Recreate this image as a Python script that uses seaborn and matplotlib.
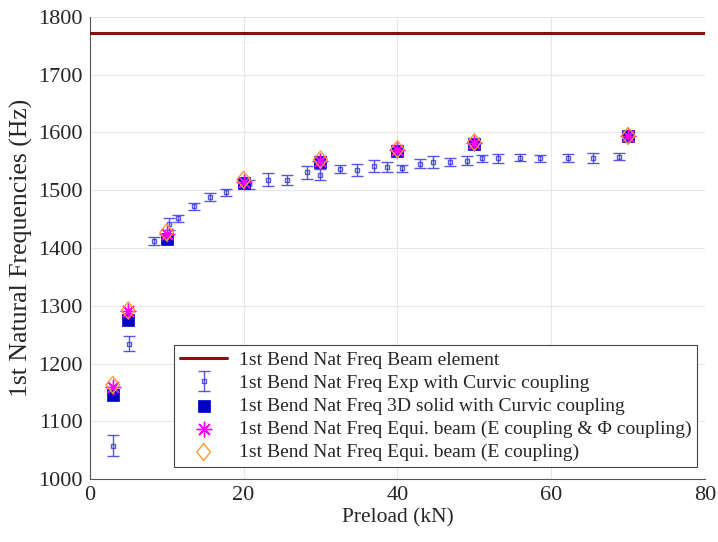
import numpy as np
import pandas as pd
import matplotlib
matplotlib.use("Agg")
import matplotlib.pyplot as plt
from matplotlib.path import Path
import seaborn as sns

# beam element (constant)
beam_freq = 1772

# experimental points with curvic coupling
exp_preload = [3.0, 5.1, 8.3, 10.3, 11.5, 13.5, 15.6, 17.7, 20.7, 23.2, 25.7, 28.2, 30.0,
               32.6, 34.8, 36.9, 38.6, 40.6, 43.0, 44.6, 46.9, 49.1, 51.0, 53.1, 56.0,
               58.6, 62.2, 65.4, 68.8]
exp_freq = [1058, 1234, 1412, 1441, 1451, 1472, 1488, 1496, 1510, 1518, 1518, 1531, 1527,
            1536, 1535, 1542, 1540, 1538, 1546, 1549, 1548, 1551, 1555, 1555, 1556,
            1555, 1556, 1556, 1558]
exp_err = [18, 13, 7, 10, 6, 6, 7, 6, 8, 11, 9, 11, 9,
           7, 10, 10, 8, 6, 8, 10, 7, 8, 6, 8, 6,
           6, 7, 9, 6]

# simulations
sim_preload = [3, 5, 10, 20, 30, 40, 50, 70]
solid_freq = [1146, 1275, 1416, 1512, 1548, 1568, 1580, 1593]
equi_phi_freq = [1160, 1291, 1424, 1515, 1551, 1570, 1582, 1594]
equi_e_freq = [1163, 1292, 1427, 1518, 1553, 1571, 1583, 1594]

df_sim = pd.DataFrame({"preload": sim_preload, "solid": solid_freq,
                       "equi_phi": equi_phi_freq, "equi_e": equi_e_freq})

sns.set_style("whitegrid", {"grid.color": "#e6e6e6", "axes.edgecolor": "#555555"})
plt.rcParams["font.family"] = ["Liberation Serif", "DejaVu Serif"]

fig, ax = plt.subplots(figsize=(7.18, 5.42), dpi=100)
fig.subplots_adjust(left=0.125, right=0.982, top=0.969, bottom=0.116)

# tall diamond like matlab
diamond = Path([(0, 1), (0.8, 0), (0, -1), (-0.8, 0), (0, 1)],
               [Path.MOVETO, Path.LINETO, Path.LINETO, Path.LINETO, Path.CLOSEPOLY])

ax.axhline(beam_freq, color="#8b0f0f", lw=2.2, label="1st Bend Nat Freq Beam element", zorder=3)

ax.errorbar(exp_preload, exp_freq, yerr=exp_err, fmt="s", ms=3.5, mfc="none",
            mec="#3b3bdc", ecolor="#3b3bdc", elinewidth=1, capsize=4, capthick=1,
            mew=1, alpha=0.85, label="1st Bend Nat Freq Exp with Curvic coupling", zorder=4)

sns.scatterplot(data=df_sim, x="preload", y="solid", marker="s", s=75, color="#0000c8",
                edgecolor="#0000c8", linewidth=0.5, ax=ax, zorder=5,
                label="1st Bend Nat Freq 3D solid with Curvic coupling")
sns.scatterplot(data=df_sim, x="preload", y="equi_phi", marker=(8, 2, 0), s=110,
                color="#ff00ff", linewidth=1, ax=ax, zorder=6,
                label="1st Bend Nat Freq Equi. beam (E coupling & \u03a6 coupling)")
sns.scatterplot(data=df_sim, x="preload", y="equi_e", marker=diamond, s=150,
                facecolor="none", edgecolor="#ff9933", linewidth=1, ax=ax, zorder=7,
                label="1st Bend Nat Freq Equi. beam (E coupling)")

ax.set_xlim(0, 80)
ax.set_ylim(1000, 1800)
ax.set_xticks(np.arange(0, 81, 20))
ax.set_yticks(np.arange(1000, 1801, 100))
ax.tick_params(labelsize=16, length=4, direction="in", color="#555555", pad=5)
ax.set_xlabel("Preload (kN)", fontsize=15.5, labelpad=2)
ax.set_ylabel("1st Natural Frequencies (Hz)", fontsize=18.5, labelpad=4)

for side in ["top", "right"]:
    ax.spines[side].set_visible(False)

# keep matlab legend order
handles, labels = ax.get_legend_handles_labels()
order = [labels.index(l) for l in [
    "1st Bend Nat Freq Beam element",
    "1st Bend Nat Freq Exp with Curvic coupling",
    "1st Bend Nat Freq 3D solid with Curvic coupling",
    "1st Bend Nat Freq Equi. beam (E coupling & \u03a6 coupling)",
    "1st Bend Nat Freq Equi. beam (E coupling)"]]
leg = ax.legend([handles[i] for i in order], [labels[i] for i in order],
                loc="lower right", bbox_to_anchor=(0.987, 0.026), fontsize=14,
                frameon=True, fancybox=False, framealpha=1, edgecolor="#444444",
                borderaxespad=0, labelspacing=0.28, handlelength=2.4, handletextpad=0.6,
                borderpad=0.3)
leg.get_frame().set_linewidth(0.8)

plt.savefig("out.png", dpi=100)
